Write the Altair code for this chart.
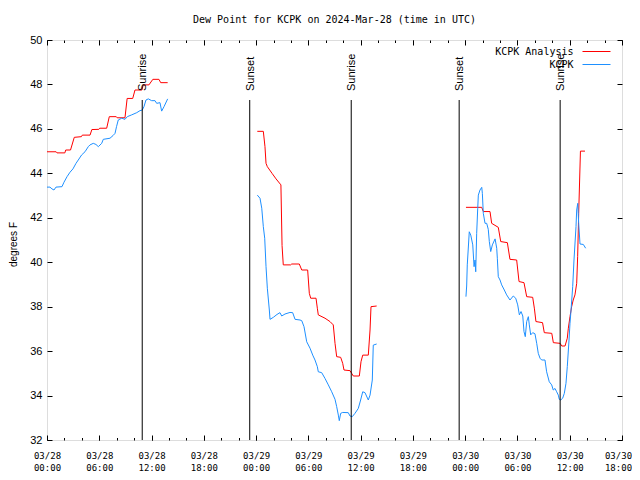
import altair as alt
import pandas as pd

TITLE = "Dew Point for KCPK on 2024-Mar-28 (time in UTC)"
Y_TITLE = "degrees F"
SERIES = ["KCPK Analysis", "KCPK"]
COLORS = ["#ff0000", "#1e90ff"]

# time axis: hours since 2024-03-28 00:00 UTC
RED_1_H = [0.00, 1.05, 1.15, 2.05, 2.15, 2.70, 3.13, 3.95, 4.05, 4.94, 5.15, 5.95, 6.05, 6.85, 7.15,
           7.95, 8.05, 8.95, 9.20, 9.84, 10.10, 10.90, 11.05, 11.70, 12.15, 12.85, 13.05, 13.85]
RED_1_V = [44.97, 44.97, 44.92, 44.92, 45.05, 45.05, 45.62, 45.65, 45.72, 45.72, 45.97, 45.98, 46.03,
           46.03, 46.55, 46.55, 46.50, 46.50, 47.37, 47.37, 47.75, 47.75, 47.98, 47.98, 48.23, 48.23,
           48.08, 48.08]
RED_2_H = [24.14, 24.83, 25.02, 25.14, 25.29, 25.83, 26.29, 26.85, 26.98, 27.12, 27.97, 28.09, 28.96,
           29.24, 29.92, 30.11, 30.27, 30.88, 31.03, 31.14, 31.91, 32.48, 32.86, 33.06, 33.25, 33.71,
           33.94, 34.09, 34.78, 34.97, 35.16, 35.85, 36.04, 36.24, 36.88, 37.08, 37.19, 37.84]
RED_2_V = [45.89, 45.89, 45.20, 44.45, 44.30, 44.00, 43.75, 43.48, 40.75, 39.88, 39.88, 39.92, 39.92,
           39.65, 39.65, 38.60, 38.38, 38.38, 37.93, 37.63, 37.48, 37.33, 37.18, 36.35, 35.75, 35.72,
           35.45, 35.15, 35.12, 35.00, 34.88, 34.88, 35.52, 35.82, 35.82, 36.95, 38.00, 38.03]
RED_3_H = [48.09, 49.90, 50.08, 50.85, 51.04, 51.80, 52.08, 52.84, 53.14, 53.91, 54.18, 54.75, 55.06,
           55.75, 55.95, 56.12, 56.88, 57.08, 57.94, 58.12, 58.90, 59.08, 59.46, 59.72, 59.84, 60.03,
           60.22, 60.40, 60.60, 60.80, 60.91, 61.03, 61.17, 61.23, 61.75]
RED_3_V = [42.47, 42.47, 42.28, 42.28, 41.75, 41.57, 40.93, 40.88, 40.13, 40.10, 39.13, 39.08, 38.45,
           38.42, 37.90, 37.33, 37.28, 36.83, 36.80, 36.38, 36.35, 36.23, 36.23, 36.58, 37.03, 37.55,
           38.00, 38.30, 38.53, 39.05, 40.25, 42.20, 44.15, 45.00, 45.00]

BLUE_1_H = [0.00, 0.34, 0.57, 0.80, 1.03, 1.72, 1.95, 2.30, 2.64, 2.98, 3.33, 3.59, 3.98, 4.36, 4.74,
            4.94, 5.31, 5.62, 5.89, 6.28, 6.46, 7.23, 7.58, 7.81, 7.98, 8.18, 8.57, 8.95, 9.22, 9.72,
            10.30, 10.67, 10.94, 11.13, 11.36, 11.63, 12.01, 12.40, 12.59, 12.97, 13.16, 13.43, 13.85]
BLUE_1_V = [43.38, 43.38, 43.30, 43.25, 43.38, 43.40, 43.60, 43.85, 44.05, 44.20, 44.45, 44.60, 44.83,
            44.97, 45.20, 45.28, 45.35, 45.30, 45.20, 45.35, 45.53, 45.58, 45.70, 45.80, 46.10, 46.40,
            46.48, 46.43, 46.55, 46.63, 46.73, 46.82, 46.85, 47.00, 47.30, 47.35, 47.27, 47.27, 47.15,
            47.18, 46.80, 47.00, 47.35]
BLUE_2_H = [24.14, 24.45, 24.65, 24.83, 24.99, 25.14, 25.29, 25.52, 25.60, 25.98, 26.40, 26.74, 26.94,
            27.32, 27.89, 28.20, 28.47, 29.04, 29.24, 29.50, 29.81, 30.19, 30.50, 30.76, 31.03, 31.14,
            31.53, 31.91, 32.29, 32.68, 33.06, 33.25, 33.44, 33.55, 33.71, 33.94, 34.58, 34.78, 35.04,
            35.35, 35.73, 36.00, 36.24, 36.50, 36.88, 37.08, 37.34, 37.45, 37.84]
BLUE_2_V = [43.02, 42.88, 42.43, 41.60, 41.08, 39.80, 38.83, 37.85, 37.43, 37.52, 37.65, 37.73, 37.58,
            37.67, 37.74, 37.73, 37.43, 37.40, 37.37, 37.10, 36.42, 36.13, 35.82, 35.60, 35.30, 35.07,
            35.03, 34.77, 34.48, 34.17, 33.83, 33.50, 33.12, 32.87, 33.20, 33.24, 33.23, 33.08, 33.05,
            33.20, 33.42, 33.80, 34.17, 34.13, 33.80, 34.02, 34.70, 36.27, 36.32]
BLUE_3_H = [48.09, 48.17, 48.24, 48.47, 48.64, 48.87, 49.02, 49.13, 49.21, 49.32, 49.44, 49.51, 49.70,
            49.90, 49.97, 50.08, 50.28, 50.47, 50.65, 50.77, 50.93, 51.12, 51.43, 51.62, 51.69, 51.80,
            52.00, 52.19, 52.49, 52.76, 53.14, 53.52, 53.80, 54.03, 54.22, 54.41, 54.61, 54.75, 54.90,
            55.06, 55.25, 55.36, 55.52, 55.75, 56.01, 56.21, 56.39, 56.59, 56.78, 57.16, 57.35, 57.65,
            57.93, 58.11, 58.31, 58.50, 58.69, 58.80, 58.96, 59.19, 59.38, 59.57, 59.72, 59.92, 60.03,
            60.15, 60.34, 60.49, 60.72, 60.80, 60.92, 61.03, 61.18, 61.56, 61.83]
BLUE_3_V = [38.45, 38.93, 39.88, 41.37, 41.22, 40.78, 39.80, 40.10, 39.57, 41.30, 42.43, 43.02, 43.25,
            43.37, 43.10, 42.20, 41.75, 41.75, 41.48, 40.93, 40.48, 40.78, 41.05, 40.63, 40.18, 39.35,
            39.20, 38.98, 38.75, 38.53, 38.30, 38.48, 38.38, 38.08, 37.63, 37.78, 37.58, 36.88, 36.65,
            37.33, 37.55, 37.18, 36.73, 36.83, 36.78, 36.35, 35.90, 35.68, 35.60, 35.60, 35.07, 34.62,
            34.48, 34.25, 34.32, 34.17, 34.02, 33.83, 33.80, 33.88, 34.10, 34.55, 35.30, 36.50, 37.25,
            37.85, 38.90, 40.10, 41.60, 42.35, 42.65, 41.75, 40.82, 40.80, 40.63]

EVENT_H = [10.93, 23.27, 34.92, 47.31, 58.90]
EVENT_LABEL = ["Sunrise", "Sunset", "Sunrise", "Sunset", "Sunrise"]
EVENT_TOP = 47.3

X_DOMAIN = [0, 66]
Y_DOMAIN = [32, 50]
X_MAJOR = list(range(0, 67, 6))
X_MINOR = list(range(0, 67, 2))
Y_TICKS = list(range(32, 51, 2))


def frame(series, segs):
    rows = []
    for i, (hs, vs) in enumerate(segs):
        for h, v in zip(hs, vs):
            rows.append({"series": series, "seg": i, "h": h, "v": v})
    return pd.DataFrame(rows)


red_df = frame(SERIES[0], [(RED_1_H, RED_1_V), (RED_2_H, RED_2_V), (RED_3_H, RED_3_V)])
blue_df = frame(SERIES[1], [(BLUE_1_H, BLUE_1_V), (BLUE_2_H, BLUE_2_V), (BLUE_3_H, BLUE_3_V)])
ev_df = pd.DataFrame({"h": EVENT_H, "label": EVENT_LABEL})

xs = alt.Scale(domain=X_DOMAIN, nice=False, zero=False)
ys = alt.Scale(domain=Y_DOMAIN, nice=False, zero=False)

LAB = ("['03/' + (28 + floor(datum.value / 24)), "
       "(datum.value % 24 < 10 ? '0' : '') + (datum.value % 24) + ':00']")

common = dict(domain=False, grid=False, tickColor="black", tickWidth=1, title=None)

x_bottom = alt.Axis(orient="bottom", values=X_MAJOR, labelExpr=LAB, tickSize={"expr": "-5"},
                    labelFont="DejaVu Sans Mono", labelFontSize=9, labelColor="black",
                    labelLineHeight=12, labelPadding=16, labelAngle=0, labelBaseline="top",
                    labelOffset={"condition": {"test": "datum.value == 66", "expr": "-4"}, "value": 0},
                    labelOverlap=False, labelFlush=False, **common)
x_top = alt.Axis(orient="top", values=X_MAJOR, labels=False, tickSize={"expr": "-5"}, **common)
x_bottom_minor = alt.Axis(orient="bottom", values=X_MINOR, labels=False, tickSize={"expr": "-2.5"}, **common)
x_top_minor = alt.Axis(orient="top", values=X_MINOR, labels=False, tickSize={"expr": "-2.5"}, **common)

y_left = alt.Axis(orient="left", values=Y_TICKS, tickSize={"expr": "-5"}, format="d",
                  labelFont="Liberation Sans", labelFontSize=11, labelColor="black", labelPadding=10,
                  labelOverlap=False, labelFlush=False,
                  title=Y_TITLE, titleFont="Liberation Sans", titleFontSize=10, titleFontWeight="normal",
                  titleColor="black", titleX=-34, titleY=204, titleAngle=270, titleBaseline="middle",
                  titleAlign="center", domain=False, grid=False, tickColor="black", tickWidth=1)
y_right = alt.Axis(orient="right", values=Y_TICKS, labels=False, tickSize={"expr": "-5"}, **common)

legend = alt.Legend(title=None, orient="none", legendX=544.5, legendY=6.5, symbolType="M-4,0H4",
                    symbolSize=49, symbolStrokeWidth=1, symbolFillColor="transparent",
                    labelFont="DejaVu Sans Mono",
                    labelFontSize=10, labelColor="black", labelAlign="right",
                    labelOffset={"expr": "-28"}, rowPadding=3, padding=0)
color_scale = alt.Scale(domain=SERIES, range=COLORS)

red = alt.Chart(red_df).mark_line(strokeWidth=1, interpolate="linear").encode(
    x=alt.X("h:Q", scale=xs, axis=x_bottom),
    y=alt.Y("v:Q", scale=ys, axis=y_left),
    color=alt.Color("series:N", scale=color_scale, legend=legend),
    detail="seg:N",
)
blue = alt.Chart(blue_df).mark_line(strokeWidth=1, interpolate="linear").encode(
    x=alt.X("h:Q", scale=xs, axis=x_top),
    y=alt.Y("v:Q", scale=ys, axis=y_right),
    color=alt.Color("series:N", scale=color_scale, legend=legend),
    detail="seg:N",
)
rules = alt.Chart(ev_df).mark_rule(color="black", strokeWidth=1).encode(
    x=alt.X("h:Q", scale=xs, axis=x_bottom_minor),
    y=alt.YDatum(Y_DOMAIN[0], axis=None),
    y2=alt.Y2Datum(EVENT_TOP),
)
texts = alt.Chart(ev_df).mark_text(angle=270, align="left", baseline="middle", dx=9, dy=1,
                                   font="Liberation Sans", fontSize=11, color="black").encode(
    x=alt.X("h:Q", scale=xs, axis=x_top_minor),
    y=alt.YDatum(EVENT_TOP, axis=None),
    text="label:N",
)

chart = alt.layer(red, blue, rules, texts).resolve_axis(
    x="independent", y="independent"
).properties(
    width=575, height=400,
    autosize=alt.AutoSizeParams(type="none"),
    padding={"left": 39, "top": 32, "right": 10, "bottom": 32},
    title=alt.Title(TITLE, font="DejaVu Sans Mono", fontSize=10, fontWeight="normal", color="black",
                    anchor="middle", baseline="bottom", offset=16, dy=17),
).configure_view(stroke="black", strokeWidth=1).configure(background="white")

chart.save("out.html", embed_options={"renderer": "svg", "actions": False})
